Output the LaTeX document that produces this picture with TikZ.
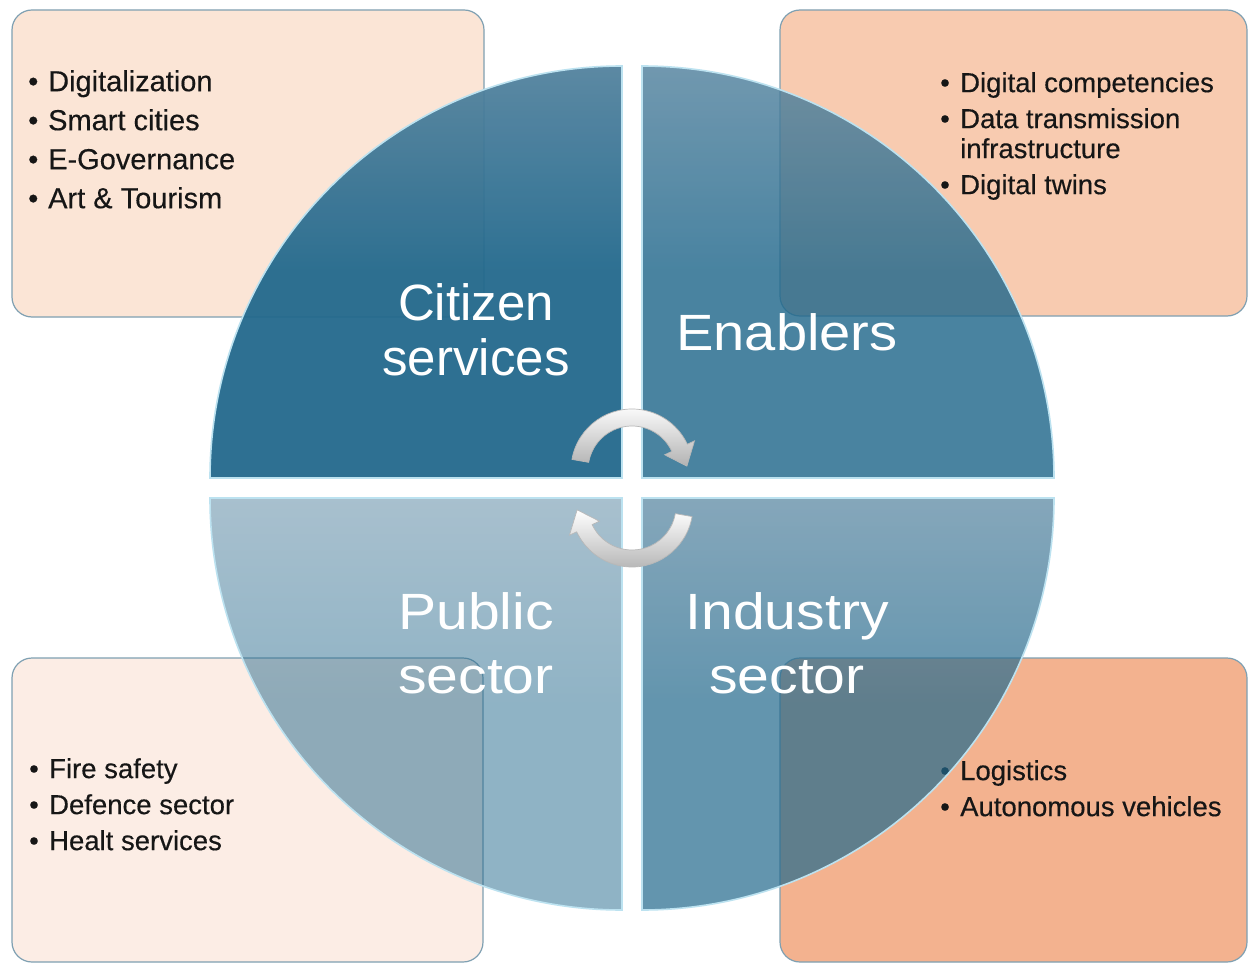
\documentclass[tikz,border=0pt]{standalone}
\usepackage{fontspec}
\setmainfont{Liberation Sans}
\newfontfamily\widefont[FakeStretch=1.1]{Liberation Sans}
\newfontfamily\widerfont[FakeStretch=1.12]{Liberation Sans}
\newfontfamily\listfont[FakeBold=0.35]{Liberation Sans}
\definecolor{boxTL}{HTML}{FBE5D6}
\definecolor{boxTR}{HTML}{F8CBB0}
\definecolor{boxBL}{HTML}{FCEDE5}
\definecolor{boxBR}{HTML}{F3B28F}
\definecolor{boxline}{HTML}{7FA0B2}
\definecolor{qbase}{RGB}{33,104,140}
\definecolor{qtop}{RGB}{82,130,158}
\definecolor{qedge}{HTML}{BCE2F0}
\definecolor{listink}{HTML}{161616}
\newcommand{\bul}{\makebox[20pt][l]{\textbullet}}
\begin{document}
\begin{tikzpicture}[x=1pt,y=-1pt,
  infobox/.style={draw=boxline,line width=1.2pt,rounded corners=20pt},
  listtext/.style={inner sep=0pt,anchor=north west,align=left,text=listink},
  quad/.style={draw=qedge,line width=1.6pt,top color=qtop,bottom color=qbase,middle color=qbase},
  qtitle/.style={inner sep=0pt,anchor=north,align=center,text=white},
  cycarrow/.style={top color=white,bottom color=black!30,draw=black!28,line width=0.7pt}]
\path[fill=white] (0,0) rectangle (1249,965);
\useasboundingbox (0,0) rectangle (1249,965);
% boxes
\path[infobox,fill=boxTL] (12,10) rectangle (484,317);
\path[infobox,fill=boxTR] (780,10) rectangle (1247,316);
\path[infobox,fill=boxBL] (12,658) rectangle (483,962);
\path[infobox,fill=boxBR] (780,658) rectangle (1247,962);
% lists
\node[listtext,font=\listfont\fontsize{29}{33}\selectfont] (tl) at (28,70)
  {\bul Digitalization\\[6pt]\bul Smart cities\\[6pt]\bul E-Governance\\[6pt]\bul Art \& Tourism};
\node[listtext,font=\listfont\fontsize{27.5}{30}\selectfont] (tr) at (940,72)
  {\bul Digital competencies\\[6pt]\bul Data transmission\\\hspace*{20pt}infrastructure\\[6pt]\bul Digital twins};
\node[listtext,font=\listfont\fontsize{27.5}{30}\selectfont] (bl) at (29,758)
  {\bul Fire safety\\[6pt]\bul Defence sector\\[6pt]\bul Healt services};
\node[listtext,font=\listfont\fontsize{27.5}{30}\selectfont] (br) at (940,760)
  {\bul Logistics\\[6pt]\bul Autonomous vehicles};
% quadrants
\path[quad,fill opacity=0.94] (622,478) -- (210,478) arc[start angle=180,end angle=270,radius=412] -- cycle;
\path[quad,fill opacity=0.82] (642,478) -- (642,66) arc[start angle=270,end angle=360,radius=412] -- cycle;
\path[quad,fill opacity=0.70] (642,498) -- (1054,498) arc[start angle=0,end angle=90,radius=412] -- cycle;
\path[quad,fill opacity=0.50] (622,498) -- (622,910) arc[start angle=90,end angle=180,radius=412] -- cycle;
% titles
\node[qtitle,font=\fontsize{51}{55}\selectfont] (citizen) at (476,283) {Citizen\\services};
\node[qtitle,font=\widefont\fontsize{51}{55}\selectfont] (enablers) at (787,313) {Enablers};
\node[qtitle,font=\widerfont\fontsize{51}{64}\selectfont] (public) at (476,592) {Public\\sector};
\node[qtitle,font=\widerfont\fontsize{51}{64}\selectfont] (industry) at (787,592) {Industry\\sector};
% cycle arrows
\begin{scope}[shift={(632,470)}]
  \path[cycarrow] (-170:61) arc[start angle=-170,end angle=-25,radius=61]
    -- (-25:69) -- (-4:55) -- (-25:36) -- (-25:44)
    arc[start angle=-25,end angle=-170,radius=44] -- cycle;
\end{scope}
\begin{scope}[shift={(632,506)},rotate=180]
  \path[cycarrow] (-170:61) arc[start angle=-170,end angle=-25,radius=61]
    -- (-25:69) -- (-4:55) -- (-25:36) -- (-25:44)
    arc[start angle=-25,end angle=-170,radius=44] -- cycle;
\end{scope}
\end{tikzpicture}
\end{document}
